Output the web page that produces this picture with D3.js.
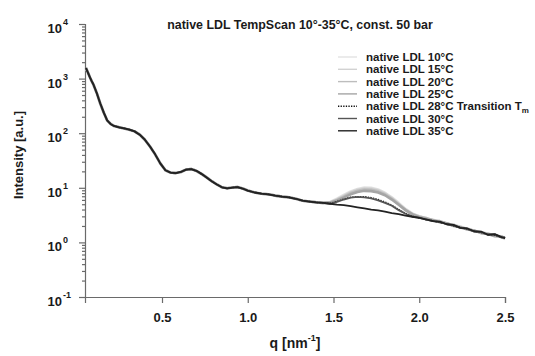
<!DOCTYPE html>
<html>
<head>
<meta charset="utf-8">
<script src="https://cdn.jsdelivr.net/npm/d3@7"></script>
<style>
  body { margin: 0; background: #fff; }
  text { font-family: "Liberation Sans", Arial, sans-serif; font-weight: bold; fill: #1a1a1a; }
</style>
</head>
<body>
<svg id="chart" width="535" height="356"></svg>
<script>
// low q part, all temperatures lie on top of each other
var lowQ = [0.057, 0.07, 0.08, 0.09, 0.10, 0.12, 0.14, 0.16, 0.18, 0.20, 0.22, 0.25, 0.28, 0.31, 0.34,
  0.37, 0.40, 0.43, 0.46, 0.49, 0.52, 0.55, 0.58, 0.61, 0.64, 0.67, 0.70, 0.73, 0.76, 0.79, 0.82,
  0.85, 0.88, 0.91, 0.94, 0.97, 1.00, 1.04, 1.08, 1.12, 1.16, 1.20, 1.24, 1.28, 1.32, 1.36, 1.40, 1.44];
var lowI = [1560, 1250, 1050, 900, 780, 540, 350, 240, 172, 148, 136, 128, 122, 116, 108,
  94, 76, 57, 41, 28, 21, 19, 18.6, 19.5, 21.5, 22, 20.5, 18, 15.5, 13.2, 11.5,
  10.2, 9.8, 10.1, 10.3, 9.7, 8.9, 8.2, 7.8, 7.6, 7.2, 6.9, 6.7, 6.3, 5.8, 5.6, 5.4, 5.3];

// high q part, one list per temperature
var highQ = [1.48, 1.52, 1.56, 1.60, 1.64, 1.68, 1.72, 1.76, 1.80, 1.84, 1.88, 1.92, 1.96, 2.00,
  2.04, 2.08, 2.12, 2.16, 2.20, 2.24, 2.28, 2.32, 2.36, 2.40, 2.44, 2.48, 2.50];
var i10 = [5.5, 6.3, 7.4, 8.6, 9.5, 10.1, 10.0, 9.3, 8.1, 6.7, 5.3, 4.1, 3.4, 3.0, 2.8, 2.55, 2.45, 2.2, 2.1, 1.9, 1.8, 1.62, 1.55, 1.45, 1.35, 1.25, 1.15];
var i15 = [5.4, 6.1, 7.1, 8.3, 9.2, 9.7, 9.6, 9.0, 7.9, 6.5, 5.1, 4.0, 3.3, 3.0, 2.75, 2.6, 2.4, 2.25, 2.05, 1.95, 1.75, 1.65, 1.5, 1.45, 1.32, 1.3, 1.2];
var i20 = [5.4, 6.0, 6.9, 8.0, 8.8, 9.3, 9.2, 8.6, 7.6, 6.3, 5.0, 3.9, 3.3, 2.95, 2.8, 2.5, 2.45, 2.2, 2.1, 1.85, 1.8, 1.6, 1.55, 1.4, 1.38, 1.25, 1.2];
var i25 = [5.3, 5.8, 6.6, 7.6, 8.4, 8.8, 8.7, 8.2, 7.3, 6.1, 4.9, 3.9, 3.25, 2.9, 2.7, 2.55, 2.35, 2.25, 2.0, 1.9, 1.72, 1.65, 1.48, 1.42, 1.3, 1.28, 1.18];
var i28 = [5.2, 5.6, 6.2, 6.7, 6.9, 6.9, 6.6, 6.1, 5.5, 4.8, 4.0, 3.4, 3.0, 2.8, 2.6, 2.5, 2.3, 2.2, 2.0, 1.88, 1.75, 1.6, 1.52, 1.4, 1.35, 1.25, 1.2];
var i30 = [5.1, 5.5, 6.1, 6.6, 6.8, 6.7, 6.4, 5.9, 5.3, 4.7, 3.9, 3.35, 2.95, 2.85, 2.6, 2.45, 2.35, 2.15, 2.05, 1.85, 1.78, 1.58, 1.55, 1.38, 1.4, 1.22, 1.25];
var i35 = [5.1, 4.9, 4.8, 4.6, 4.4, 4.2, 4.0, 3.85, 3.65, 3.45, 3.3, 3.1, 2.95, 2.8, 2.65, 2.45, 2.4, 2.15, 2.1, 1.85, 1.8, 1.6, 1.58, 1.38, 1.42, 1.25, 1.2];

var names = ["native LDL 10°C", "native LDL 15°C", "native LDL 20°C", "native LDL 25°C",
  "native LDL 28°C Transition T", "native LDL 30°C", "native LDL 35°C"];
var highI = [i10, i15, i20, i25, i28, i30, i35];
var colors = ["#e2e2e2", "#d2d2d2", "#bdbdbd", "#a5a5a5", "#111", "#555", "#222"];

var xTicks = [0.5, 1.0, 1.5, 2.0, 2.5];
var yExps = [-1, 0, 1, 2, 3, 4];

var svg = d3.select("#chart");

var x = d3.scaleLinear().domain([0.051, 2.5]).range([85, 505]);
var y = d3.scaleLog().domain([0.1, 10000]).range([297, 24]);

// build each series from shared low q part + own high q part
var series = names.map(function(n, k) {
  var pts = lowQ.map(function(q, i) { return [q, lowI[i]]; });
  highQ.forEach(function(q, i) { pts.push([q, highI[k][i]]); });
  return { name: n, color: colors[k], dotted: k == 4, pts: pts };
});

// axes
var xAxis = svg.append("g").attr("transform", "translate(0,297)")
  .call(d3.axisBottom(x).tickValues(xTicks).tickFormat(d3.format(".1f")).tickSize(6).tickPadding(10));
xAxis.selectAll("text").style("font-size", "13px");

var minor = [];
yExps.forEach(function(e) {
  if (e < 4) for (var m = 2; m < 10; m++) minor.push(m * Math.pow(10, e));
});
var yAxis = svg.append("g").attr("transform", "translate(85,0)")
  .call(d3.axisLeft(y).tickValues(minor).tickSize(3).tickFormat(""));
var yMajor = svg.append("g").attr("transform", "translate(85,0)")
  .call(d3.axisLeft(y).tickValues(yExps.map(function(e) { return Math.pow(10, e); })).tickSize(6).tickFormat(""));
svg.selectAll(".domain, .tick line").attr("stroke", "#6a6a6a").attr("stroke-width", 1.2);
yMajor.select(".domain").remove();

yExps.forEach(function(e) {
  svg.append("text").attr("x", 62).attr("y", y(Math.pow(10, e)) + 9)
    .attr("text-anchor", "end").style("font-size", "13px").text("10");
  svg.append("text").attr("x", 63).attr("y", y(Math.pow(10, e)) + 1)
    .style("font-size", "9px").text(e);
});

svg.append("text").attr("transform", "translate(23,155) rotate(-90)")
  .attr("text-anchor", "middle").style("font-size", "13px").text("Intensity [a.u.]");

var xl = svg.append("text").attr("x", 295).attr("y", 348)
  .attr("text-anchor", "middle").style("font-size", "14px");
xl.append("tspan").text("q [nm");
xl.append("tspan").attr("dy", -7).style("font-size", "9px").text("-1");
xl.append("tspan").attr("dy", 7).text("]");

svg.append("text").attr("x", 300).attr("y", 29).attr("text-anchor", "middle")
  .style("font-size", "12.4px").text("native LDL TempScan 10°-35°C, const. 50 bar");

// curves
var line = d3.line().x(function(d) { return x(d[0]); }).y(function(d) { return y(d[1]); });
svg.append("g").selectAll("path").data(series).join("path")
  .attr("d", function(d) { return line(d.pts); })
  .attr("fill", "none")
  .attr("stroke", function(d) { return d.color; })
  .attr("stroke-width", function(d, i) { return d.dotted ? 1.4 : (i < 4 ? 2.6 : 1.8); })
  .attr("stroke-linejoin", "round")
  .attr("stroke-dasharray", function(d) { return d.dotted ? "1.3,1.3" : null; });

// legend
var leg = svg.append("g").selectAll("g").data(series).join("g")
  .attr("transform", function(d, i) { return "translate(0," + (57 + i * 12.3) + ")"; });
leg.append("line").attr("x1", 338).attr("x2", 357)
  .attr("stroke", function(d) { return d.color; })
  .attr("stroke-width", 1.4)
  .attr("stroke-dasharray", function(d) { return d.dotted ? "1.3,1.3" : null; });
var lt = leg.append("text").attr("x", 366).attr("y", 4).style("font-size", "11.5px")
  .text(function(d) { return d.name; });
lt.filter(function(d) { return d.dotted; }).append("tspan")
  .attr("dy", 3).style("font-size", "8px").text("m");
</script>
</body>
</html>
